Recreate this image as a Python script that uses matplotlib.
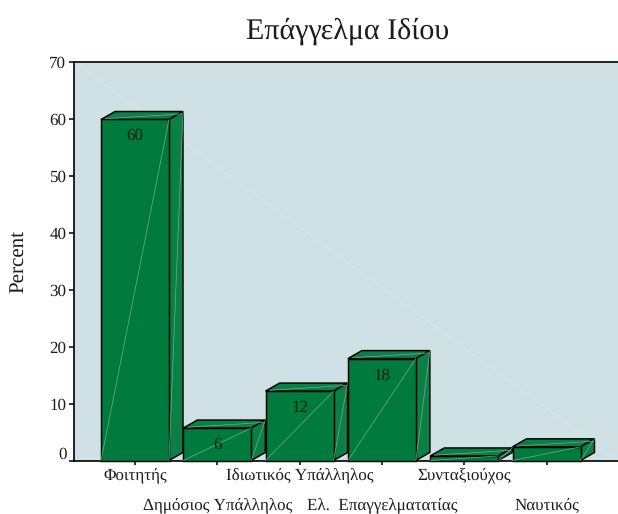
import matplotlib
matplotlib.use("Agg")
import matplotlib.pyplot as plt
from matplotlib.patches import Polygon
from matplotlib.transforms import ScaledTranslation

plt.rcParams['font.family'] = ['Liberation Serif', 'DejaVu Serif']
plt.rcParams['text.hinting'] = 'no_hinting'
plt.rcParams['text.hinting_factor'] = 1

categories = ["Φοιτητής", "Δημόσιος Υπάλληλος", "Ιδιωτικός Υπάλληλος",
              "Ελ.  Επαγγελματατίας", "Συνταξιούχος", "Ναυτικός"]
values = [59.9, 5.7, 12.2, 17.9, 0.8, 2.4]
labels = ["60", "6", "12", "18", "", ""]
yticks = [0, 10, 20, 30, 40, 50, 60, 70]

W, H = 618, 514
L, R, T, B = 74, 618, 62, 460.5
fig = plt.figure(figsize=(W / 100, H / 100), dpi=100, facecolor="white")
ax = fig.add_axes([L / W, 1 - B / H, (R - L) / W, (B - T) / H])
bg = "#D0E1E6"
green = "#007A3D"
green2 = "#0B7F45"
faint = "#6FB08E"
txt = "#1c1c1c"
ax.set_facecolor(bg)
px = 82.3
ax.set_xlim((L - 135) / px, (R - 135) / px)
ax.set_ylim(0, 70)

ax.spines["right"].set_visible(False)
for s in ("left", "bottom", "top"):
    ax.spines[s].set_linewidth(1.2)
ax.set_yticks(yticks)
ax.set_xticks(range(len(categories)))
ax.set_xticklabels([])
ax.tick_params(axis="y", length=3.5, width=1.1, labelsize=12.5, pad=2, labelcolor=txt)
ax.tick_params(axis="x", length=3, width=1.1)
zero = ax.yaxis.get_major_ticks()[0].label1
zero.set_transform(zero.get_transform() + ScaledTranslation(0, 0.08, fig.dpi_scale_trans))

# faint background diagonal
ax.plot([0, 1], [1, 0], transform=ax.transAxes, color="#DAE8EC", lw=0.6, zorder=1)

bw = 68 / px
dx = 14 / px
dy = 8 * 70 / (B - T)
for i, v in enumerate(values):
    x0, x1 = i - bw / 2, i + bw / 2
    top = [(x0, v), (x1, v), (x1 + dx, v + dy), (x0 + dx, v + dy)]
    side = [(x1, 0), (x1 + dx, dy), (x1 + dx, v + dy), (x1, v)]
    front = [(x0, 0), (x1, 0), (x1, v), (x0, v)]
    z = 3 + i
    for poly, c in ((top, green2), (side, green2), (front, green)):
        ax.add_patch(Polygon(poly, closed=True, fc=c, ec="black", lw=1.05,
                             joinstyle="miter", zorder=z, clip_on=False))
    ax.plot([x0, x1], [0, v], color=faint, lw=0.5, zorder=z + 0.1)
    ax.plot([x1, x1 + dx], [0, v + dy], color=faint, lw=0.5, zorder=z + 0.1)
    ax.plot([x0 + dx * 0.3, x1 + dx * 0.9], [v + dy * 0.1, v + dy * 0.7], color=faint, lw=0.5, zorder=z + 0.1)
    if labels[i]:
        ax.annotate(labels[i], (i, v), xytext=(0, -6.5), textcoords="offset points",
                    ha="center", va="top", fontsize=12.5, color="#102010", zorder=z + 0.2)

for i, c in enumerate(categories):
    off = 16 if i % 2 == 0 else 45.5
    ax.annotate(c, (i, 0), xytext=(0, -off * 0.72), textcoords="offset points",
                ha="center", va="center", fontsize=12.5, color=txt,
                xycoords=ax.get_xaxis_transform(), annotation_clip=False)

fig.text(18 / W, 1 - 262 / H, "Percent", fontsize=15, rotation=90, ha="center", va="center", color=txt)
fig.text(348 / W, 1 - 31 / H, "Επάγγελμα Ιδίου", fontsize=21.5, ha="center", va="center", color=txt)

fig.savefig("out.png", dpi=100)
